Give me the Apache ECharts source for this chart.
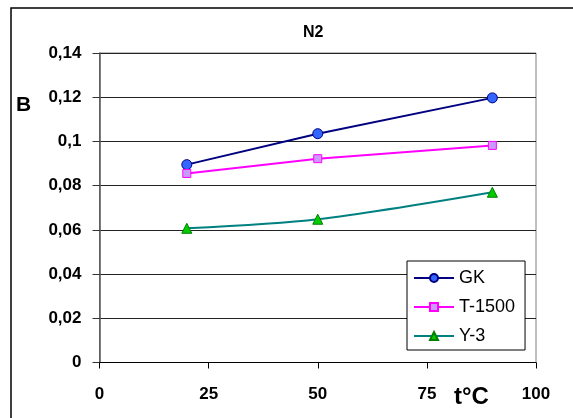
<!DOCTYPE html>
<html>
<head>
<meta charset="utf-8">
<script src="https://cdn.jsdelivr.net/npm/echarts@6/dist/echarts.min.js"></script>
<style>
html,body{margin:0;padding:0;background:#fff;}
#c{width:573px;height:418px;}
</style>
</head>
<body>
<div id="c"></div>
<script>
const temperatures = [20, 50, 90];
const gkValues = [0.0895, 0.1035, 0.1197];
const t1500Values = [0.0855, 0.0922, 0.0982];
const y3Values = [0.0607, 0.0648, 0.0770];
const seriesNames = ['GK', 'T-1500', 'Y-3'];
const xTicks = [0, 25, 50, 75, 100];
const yTicks = [0, 0.02, 0.04, 0.06, 0.08, 0.1, 0.12, 0.14];

const pairs = vals => temperatures.map((t, i) => [t, vals[i]]);
const fmt = v => String(+(+v).toFixed(4)).replace('.', ',');
const font = 'Liberation Sans, Arial, sans-serif';

const chart = echarts.init(document.getElementById('c'), null, {renderer: 'canvas'});
chart.setOption({
  backgroundColor: '#fff',
  animation: false,
  title: {
    text: 'N2', left: 298, top: 20,
    textStyle: {fontFamily: font, fontWeight: 'bold', fontSize: 16, color: '#000'}
  },
  graphic: [
    {type: 'rect', shape: {x: 11, y: 8, width: 800, height: 800}, style: {fill: 'none', stroke: '#000', lineWidth: 1.5}, silent: true},
    {type: 'text', left: 16, top: 95, style: {text: 'B', font: 'bold 21px ' + font, fill: '#000'}},
    {type: 'text', left: 454, top: 385, style: {text: 't°C', font: 'bold 24px ' + font, fill: '#000'}}
  ],
  grid: {left: 99.5, right: 37, top: 53, bottom: 55.5, show: true, borderColor: '#808080', borderWidth: 1, backgroundColor: 'transparent'},
  legend: {
    orient: 'vertical', left: 407, top: 261,
    width: 120,
    padding: [8, 10, 5, 6],
    itemGap: 11, itemWidth: 40, itemHeight: 10,
    backgroundColor: '#fff', borderColor: '#000', borderWidth: 1,
    textStyle: {fontFamily: font, fontSize: 18, lineHeight: 18, color: '#000'},
    data: seriesNames
  },
  xAxis: {
    type: 'value', min: xTicks[0], max: xTicks[xTicks.length - 1], interval: 25,
    axisLine: {show: true, onZero: false, lineStyle: {color: '#000', width: 1}},
    axisTick: {show: true, length: 6, inside: false, lineStyle: {color: '#000'}},
    axisLabel: {margin: 23, fontFamily: font, fontWeight: 'bold', fontSize: 17, color: '#000', formatter: v => fmt(v)},
    splitLine: {show: false}
  },
  yAxis: {
    type: 'value', min: yTicks[0], max: yTicks[yTicks.length - 1], interval: 0.02,
    axisLine: {show: true, lineStyle: {color: '#555', width: 1.5}},
    axisTick: {show: true, length: 7, inside: false, lineStyle: {color: '#333'}},
    axisLabel: {margin: 18, fontFamily: font, fontWeight: 'bold', fontSize: 17, color: '#000', formatter: v => fmt(v)},
    splitLine: {show: true, lineStyle: {color: '#222', width: 1}}
  },
  series: [
    {
      name: seriesNames[0], type: 'line', data: pairs(gkValues),
      symbol: 'circle', symbolSize: 10,
      lineStyle: {color: '#000080', width: 2},
      itemStyle: {color: '#3366FF', borderColor: '#000080', borderWidth: 1},
      color: '#000080'
    },
    {
      name: seriesNames[1], type: 'line', data: pairs(t1500Values),
      symbol: 'rect', symbolSize: 8,
      lineStyle: {color: '#FF00FF', width: 2},
      itemStyle: {color: '#CC99FF', borderColor: '#FF00FF', borderWidth: 1},
      color: '#FF00FF'
    },
    {
      name: seriesNames[2], type: 'line', data: pairs(y3Values), smooth: 0.3,
      symbol: 'triangle', symbolSize: 10,
      lineStyle: {color: '#008080', width: 2},
      itemStyle: {color: '#00CC00', borderColor: '#008000', borderWidth: 1},
      color: '#008080'
    }
  ]
});
</script>
</body>
</html>
